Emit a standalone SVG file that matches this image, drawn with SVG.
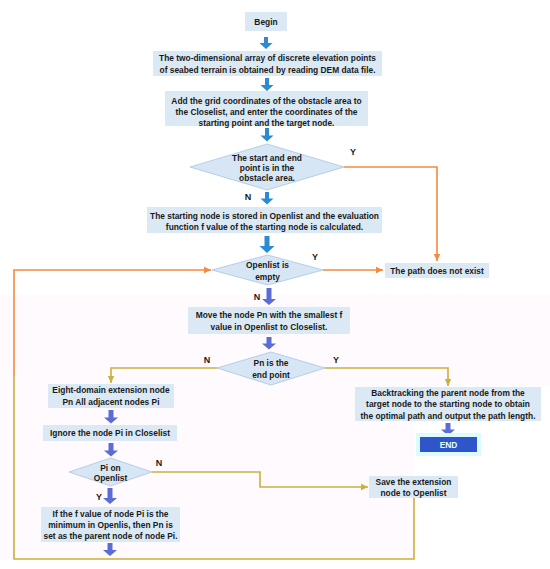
<svg xmlns="http://www.w3.org/2000/svg" width="550" height="569" viewBox="0 0 550 569">
<defs>
<style>
.t{font-family:"Liberation Sans",Arial,sans-serif;font-weight:bold;font-size:8.4px;fill:#1a1a1a;text-anchor:middle}
.lb{font-family:"Liberation Sans",Arial,sans-serif;font-weight:bold;font-size:9px;fill:#1a1a1a;text-anchor:middle}
.box{fill:#dbe9f5}
.dia{fill:#d6e6f4;stroke:#a9c5e2;stroke-width:0.8}
.or{fill:none;stroke:#f5893f;stroke-width:1.6}
.gd{fill:none;stroke:#cbb03c;stroke-width:1.6}
.ab{fill:#2a8ad3}
.ap{fill:#5c6cd5}
</style>
<marker id="mo" markerWidth="8" markerHeight="8" refX="7" refY="4" orient="auto" markerUnits="userSpaceOnUse"><path d="M0,0.8 L7,4 L0,7.2 Z" fill="#f5893f"/></marker>
<marker id="mg" markerWidth="8" markerHeight="8" refX="7" refY="4" orient="auto" markerUnits="userSpaceOnUse"><path d="M0,0.8 L7,4 L0,7.2 Z" fill="#cbb03c"/></marker>
</defs>
<rect x="0" y="295" width="414" height="264" fill="#fffafd"/>
<rect x="414" y="295" width="136" height="90" fill="#fffafd"/>

<g id="connectors">
<path class="or" d="M344,167 H437 V261" marker-end="url(#mo)"/>
<path class="or" d="M323,270 H383" marker-end="url(#mo)"/>
<path class="or" d="M14,376 V270 H211" marker-end="url(#mo)"/>
<path class="gd" d="M414,498 V559 H14 V375"/>
<path class="gd" d="M217,368 H111 V383" marker-end="url(#mg)"/>
<path class="gd" d="M325,368 H448 V386" marker-end="url(#mg)"/>
<path class="gd" d="M152,472 H260 V487 H368" marker-end="url(#mg)"/>
<!-- block arrows -->
<path class="ab" d="M264,37 h4 v6 h4.5 l-6.5,6 l-6.5,-6 h4.5 z"/>
<path class="ab" d="M265,78 h4 v7 h4.5 l-6.5,6 l-6.5,-6 h4.5 z"/>
<path class="ab" d="M265,128 h4 v7.5 h4.5 l-6.5,6 l-6.5,-6 h4.5 z"/>
<path class="ab" d="M265,192 h4 v6.5 h4.5 l-6.5,6 l-6.5,-6 h4.5 z"/>
<path class="ab" d="M264.5,236 h5 v10 h5 l-7.5,7 l-7.5,-7 h5 z"/>
<path class="ap" d="M266.5,288 h5 v11 h4.5 l-7,6 l-7,-6 h4.5 z"/>
<path class="ap" d="M266.5,337 h5 v6.5 h4.5 l-7,6 l-7,-6 h4.5 z"/>
<path class="ap" d="M108.5,410 h5 v7.5 h4.5 l-7,6 l-7,-6 h4.5 z"/>
<path class="ap" d="M108.5,443 h5 v7.5 h4.5 l-7,6 l-7,-6 h4.5 z"/>
<path class="ap" d="M107.5,488 h5 v10 h4.5 l-7,6 l-7,-6 h4.5 z"/>
<path class="ap" d="M107.5,543 h5 v7 h4.5 l-7,6 l-7,-6 h4.5 z"/>
<path class="ap" d="M445.5,423 h5 v6.5 h4.5 l-7,6 l-7,-6 h4.5 z"/>
</g>

<g id="labels">
<text class="lb" x="353" y="155">Y</text>
<text class="lb" x="248" y="200">N</text>
<text class="lb" x="315" y="260">Y</text>
<text class="lb" x="257" y="300">N</text>
<text class="lb" x="207" y="363">N</text>
<text class="lb" x="336" y="363">Y</text>
<text class="lb" x="159" y="466">N</text>
<text class="lb" x="99" y="500">Y</text>
</g>

<g id="begin"><rect class="box" x="245" y="12" width="42" height="19"/><text class="t" x="266" y="25">Begin</text></g>

<g id="read-dem"><rect class="box" x="153" y="51" width="229" height="25"/>
<text class="t" x="267.5" y="61">The two-dimensional array of discrete elevation points</text>
<text class="t" x="267.5" y="73">of seabed terrain is obtained by reading DEM data file.</text></g>

<g id="add-grid"><rect class="box" x="165" y="91" width="203" height="35"/>
<text class="t" x="266.5" y="104">Add the grid coordinates of the obstacle area to</text>
<text class="t" x="266.5" y="115">the Closelist, and enter the coordinates of the</text>
<text class="t" x="266.5" y="126">starting point and the target node.</text></g>

<g id="obstacle-check"><polygon class="dia" points="190,167 267,144 344,167 267,190"/>
<text class="t" x="267" y="161">The start and end</text>
<text class="t" x="267" y="171">point is in the</text>
<text class="t" x="267" y="181">obstacle area.</text></g>

<g id="store-start"><rect class="box" x="147" y="207" width="235" height="26"/>
<text class="t" x="264.5" y="219">The starting node is stored in Openlist and the evaluation</text>
<text class="t" x="264.5" y="230">function f value of the starting node is calculated.</text></g>

<g id="openlist-empty"><polygon class="dia" points="212,270 267.5,255 323,270 267.5,285"/>
<text class="t" x="267.5" y="268">Openlist is</text>
<text class="t" x="267.5" y="280">empty</text></g>

<g id="no-path"><rect class="box" x="385" y="263" width="104" height="15"/>
<text class="t" x="437" y="274">The path does not exist</text></g>

<g id="move-pn"><rect class="box" x="188" y="307" width="162" height="27"/>
<text class="t" x="269" y="318">Move the node Pn with the smallest f</text>
<text class="t" x="269" y="330">value in Openlist to Closelist.</text></g>

<g id="pn-end"><polygon class="dia" points="217,368 271,352 325,368 271,385"/>
<text class="t" x="271" y="366">Pn is the</text>
<text class="t" x="271" y="378">end point</text></g>

<g id="eight-domain"><rect class="box" x="48" y="384" width="126" height="24"/>
<text class="t" x="111" y="393">Eight-domain extension node</text>
<text class="t" x="111" y="405">Pn All adjacent nodes Pi</text></g>

<g id="ignore"><rect class="box" x="43" y="425" width="134" height="16"/>
<text class="t" x="110" y="436">Ignore the node Pi in Closelist</text></g>

<g id="pi-openlist"><polygon class="dia" points="69,472 110.5,458 152,472 110.5,486"/>
<text class="t" x="110.5" y="471">Pi on</text>
<text class="t" x="110.5" y="481">Openlist</text></g>

<g id="set-parent"><rect class="box" x="41" y="507" width="139" height="35"/>
<text class="t" x="110.5" y="517">If the f value of node Pi is the</text>
<text class="t" x="110.5" y="528">minimum in Openlis, then Pn is</text>
<text class="t" x="110.5" y="539">set as the parent node of node Pi.</text></g>

<g id="backtrack"><rect class="box" x="355" y="387" width="186" height="34"/>
<text class="t" x="448" y="396">Backtracking the parent node from the</text>
<text class="t" x="448" y="407">target node to the starting node to obtain</text>
<text class="t" x="448" y="419">the optimal path and output the path length.</text></g>

<g id="end"><rect x="416" y="433" width="65" height="23" fill="#dcfbff"/><rect x="420" y="437" width="57" height="15" fill="#2e55c9"/>
<text class="t" x="448.5" y="448" style="fill:#e4ffff">END</text></g>

<g id="save-ext"><rect class="box" x="369" y="476" width="89" height="22"/>
<text class="t" x="413.5" y="485">Save the extension</text>
<text class="t" x="413.5" y="496">node to Openlist</text></g>
</svg>
